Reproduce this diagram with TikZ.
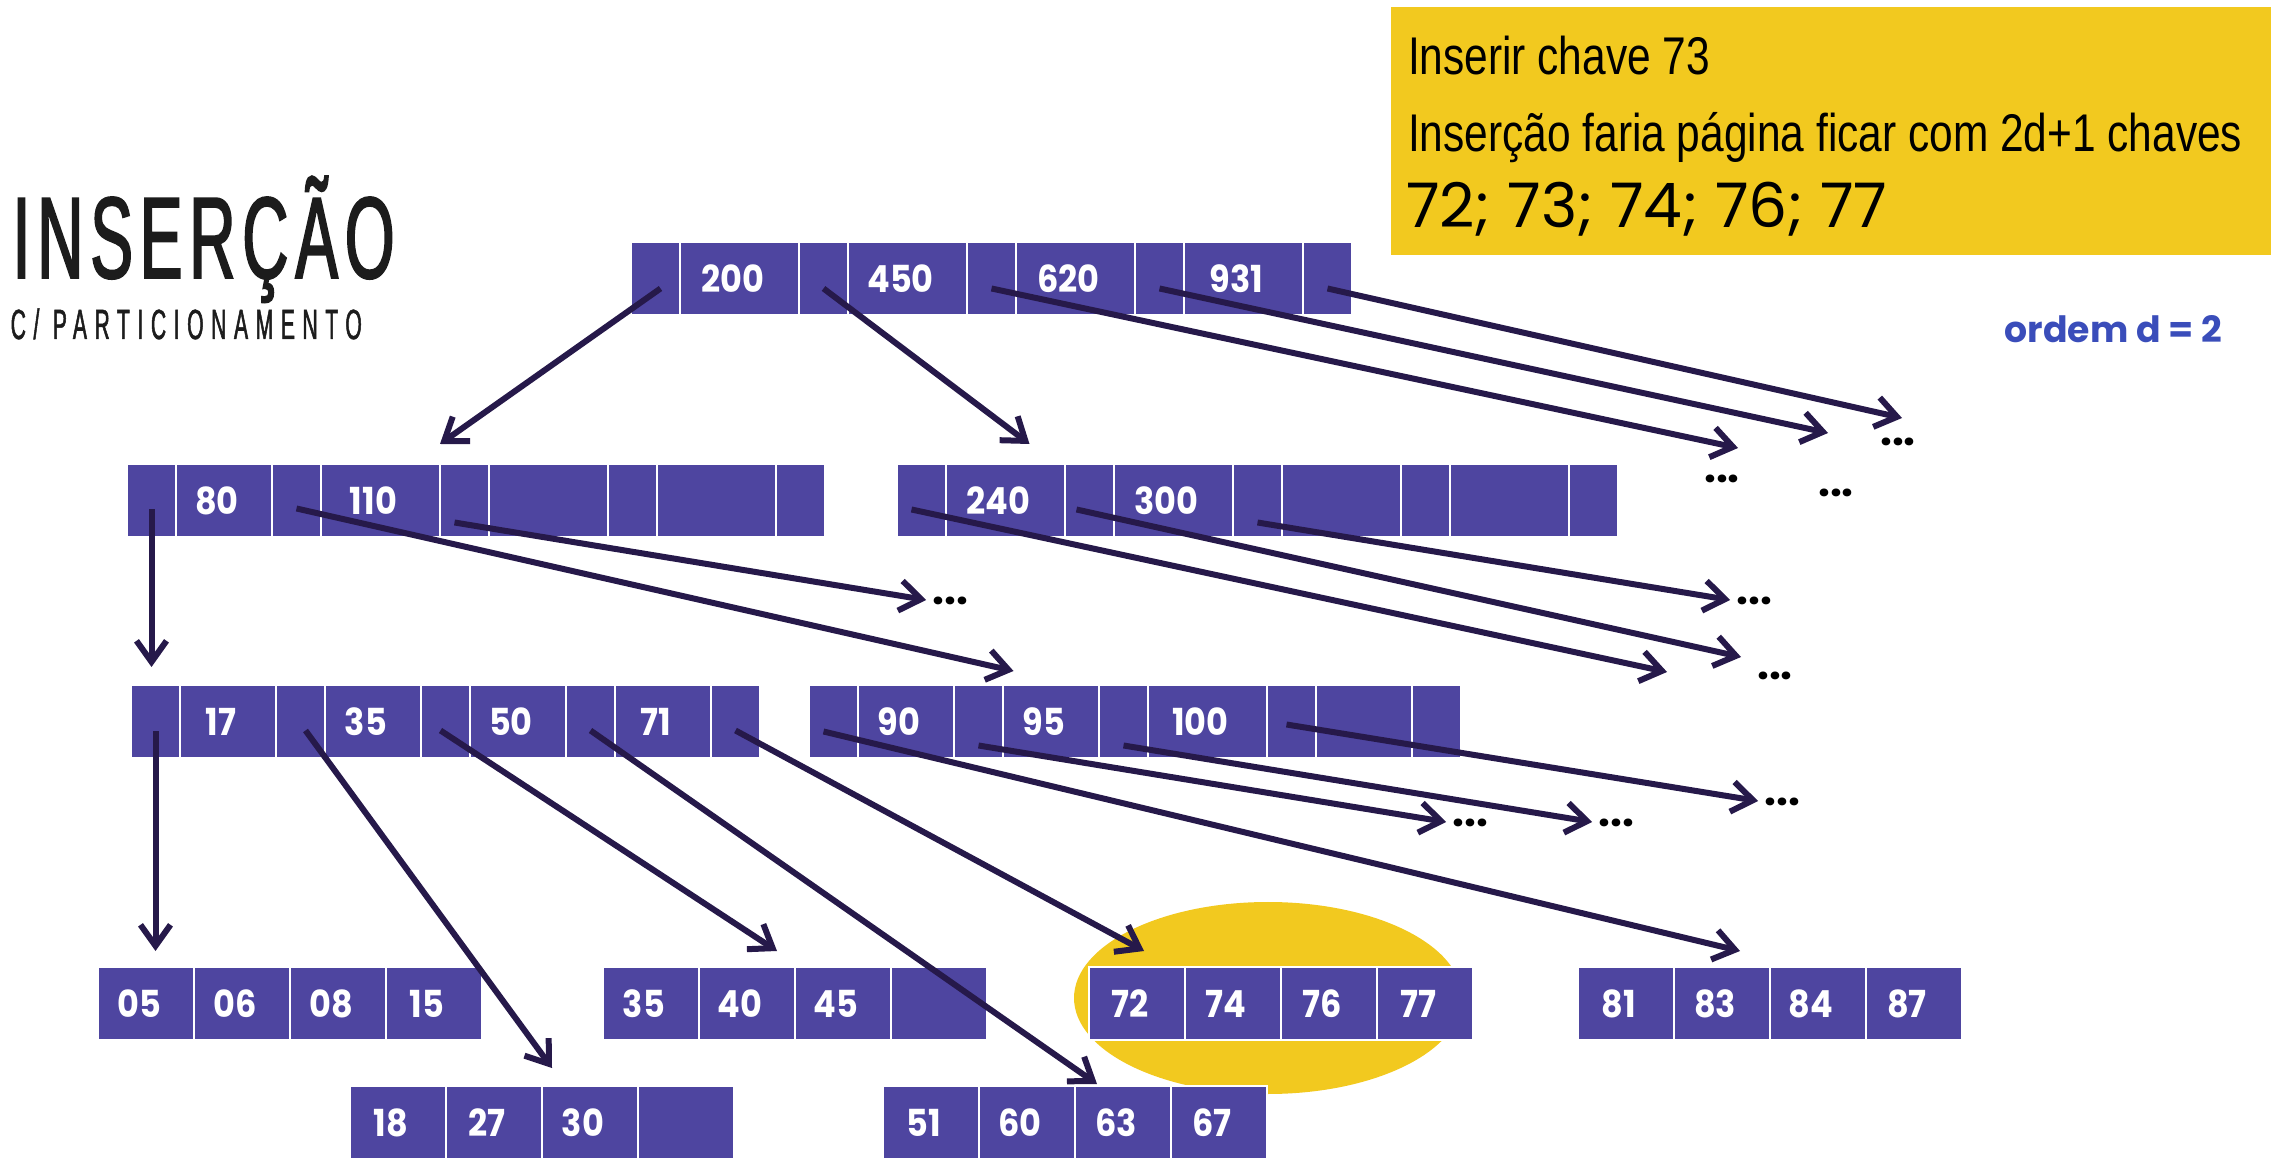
\documentclass[tikz,border=0pt]{standalone}
\usepackage{fontspec}
\setmainfont{Poppins}
\newfontfamily\titfont[FakeStretch=0.55,LetterSpace=6,FakeBold=1.6]{Liberation Sans}
\newfontfamily\subfont[FakeStretch=0.5,LetterSpace=18,FakeBold=1.2]{Liberation Sans}
\newfontfamily\boxfont[FakeStretch=0.8]{Liberation Sans}
\newfontfamily\keyfont[FakeStretch=0.9]{Poppins}
\usepackage{tikz}
\usetikzlibrary{positioning,arrows.meta,calc}

\definecolor{boxc}{RGB}{78,69,160}
\definecolor{arrowc}{RGB}{38,25,74}
\definecolor{amarelo}{RGB}{242,201,31}
\definecolor{azul}{RGB}{58,77,186}
\definecolor{titc}{RGB}{28,28,28}

% uma pagina da arvore: nome, ponto a esquerda, lista largura/chave
\newcommand{\pagina}[3]{%
  \node[ancora] (#1-0) at (#2) {};
  \foreach \w/\t [count=\i, remember=\i as \j (initially 0)] in {#3}
    \node[cell, minimum width=\w mm, right=0pt of #1-\j] (#1-\i) {\hspace*{-1.4mm}\t};
}

\begin{document}
\begin{tikzpicture}[
  ancora/.style={inner sep=0pt, outer sep=0pt, minimum size=0pt},
  cell/.style={fill=boxc, draw=white, line width=0.25mm, minimum height=7.3mm,
               inner sep=0pt, outer sep=0pt, text=white,
               font=\keyfont\bfseries\fontsize{10.6}{12}\selectfont},
  arr/.style={draw=arrowc, line width=0.6mm, -{Straight Barb[length=2.1mm, width=3mm]}},
  arrd/.style={arr, shorten >=0.6mm},
  pts/.style={font=\bfseries\fontsize{12}{12}\selectfont, inner sep=0pt, text=black},
  caixa/.style={fill=amarelo, minimum width=8.8cm, minimum height=2.48cm, inner sep=0pt},
  linha/.style={anchor=base west, inner sep=0pt, font=\boxfont\fontsize{15.1}{18}\selectfont},
]
\useasboundingbox (0,0) rectangle (22.78,-11.76);

% titulo
\node[anchor=base west, inner sep=0pt, text=titc, font=\titfont\fontsize{33}{36}\selectfont] (titulo) at (0.12,-2.78) {INSERÇÃO};
\node[anchor=base west, inner sep=0pt, text=titc, font=\subfont\fontsize{12}{13}\selectfont] (subtitulo) at (0.1,-3.39) {C/ PARTICIONAMENTO};

% quadro amarelo
\node[caixa] (aviso) at (18.31,-1.31) {};
\node[linha] (l1) at ($(aviso.north west)+(1.7mm,-6.8mm)$) {Inserir chave 73};
\node[linha] (l2) at ($(aviso.north west)+(1.7mm,-14.5mm)$) {Inserção faria página ficar com 2d+1 chaves};
\node[linha, font=\fontsize{17.5}{18}\selectfont] (l3) at ($(aviso.north west)+(1.5mm,-22.1mm)$) {72; 73; 74; 76; 77};

\node[anchor=base west, inner sep=0pt, text=azul, font=\bfseries\fontsize{10.3}{12}\selectfont] (ordem) at (20.04,-3.43) {ordem d = 2};

% destaque da folha cheia
\fill[amarelo] (12.68,-9.98) ellipse [x radius=1.94, y radius=0.96];

% paginas
\pagina{r}{6.31,-2.785}{4.9/{},11.9/200,4.9/{},11.9/450,4.9/{},11.9/620,4.9/{},11.9/931,4.9/{}}
\pagina{n1}{1.27,-5.005}{4.9/{},9.6/80,4.9/{},11.9/110,4.9/{},11.9/{},4.9/{},11.9/{},4.9/{}}
\pagina{n2}{8.97,-5.005}{4.9/{},11.9/240,4.9/{},11.9/300,4.9/{},11.9/{},4.9/{},11.9/{},4.9/{}}
\pagina{n3}{1.31,-7.215}{4.9/{},9.6/17,4.9/{},9.6/35,4.9/{},9.6/50,4.9/{},9.6/71,4.9/{}}
\pagina{n4}{8.09,-7.215}{4.9/{},9.6/90,4.9/{},9.6/95,4.9/{},11.9/100,4.9/{},9.6/{},4.9/{}}
\pagina{f1}{0.98,-10.035}{9.6/05,9.6/06,9.6/08,9.6/15}
\pagina{f2}{3.50,-11.225}{9.6/18,9.6/27,9.6/30,9.6/{}}
\pagina{f3}{6.03,-10.035}{9.6/35,9.6/40,9.6/45,9.6/{}}
\pagina{f4}{8.83,-11.225}{9.6/51,9.6/60,9.6/63,9.6/67}
\pagina{f5}{10.89,-10.035}{9.6/72,9.6/74,9.6/76,9.6/77}
\pagina{f6}{15.78,-10.035}{9.6/81,9.6/83,9.6/84,9.6/87}

% reticencias e pontas livres
\node[pts] (dA) at (17.22,-4.79) {...};
\node[pts] (dB) at (18.36,-4.93) {...};
\node[pts] (dC) at (18.98,-4.42) {...};
\node[pts] (d5) at (17.75,-6.76) {...};
\node[pts, anchor=west] (d1) at (9.32,-6.01) {...};
\node[pts, anchor=west] (d6) at (17.36,-6.01) {...};
\node[pts, anchor=west] (d7) at (14.52,-8.23) {...};
\node[pts, anchor=west] (d8) at (15.98,-8.23) {...};
\node[pts, anchor=west] (d9) at (17.64,-8.02) {...};
\coordinate (tA) at (17.38,-4.48);
\coordinate (tB) at (18.28,-4.33);
\coordinate (tC) at (19.02,-4.18);
\coordinate (t4) at (16.67,-6.72);
\coordinate (t5) at (17.41,-6.57);

% ponteiros da raiz
\draw[arr] ([shift={(0.5mm,-1mm)}]r-1.center) -- ([yshift=2mm]n1-4.north east);
\draw[arr] ([yshift=-1mm]r-3.center) -- ([shift={(2.4mm,2mm)}]n2-2.north);
\foreach \a/\b in {r-5/tA,r-7/tB,r-9/tC} \draw[arr] ([yshift=-1mm]\a.center) -- (\b);

% ponteiros do nivel 2
\draw[arr] ([yshift=-0.9mm]n1-1.center) -- ($(n1-1.center |- n3-1.north)+(0,1.8mm)$);
\draw[arr] ([yshift=-0.8mm]n1-3.center) -- ([shift={(3.5mm,1.4mm)}]n4-3.north);
\draw[arrd] ([shift={(-1mm,-2.2mm)}]n1-5.center) -- (d1.west);
\draw[arr] ([shift={(-1mm,-0.9mm)}]n2-1.center) -- (t4);
\draw[arr] ([shift={(-1.3mm,-0.9mm)}]n2-3.center) -- (t5);
\draw[arrd] ([yshift=-2.2mm]n2-5.center) -- (d6.west);

% ponteiros do nivel 3
\draw[arr] ([yshift=-1mm]n3-1.center) -- ($(n3-1.center |- f1-1.north)+(0,1.6mm)$);
\draw[arr] ([shift={(0.5mm,-0.9mm)}]n3-3.center) -- ([shift={(1mm,1.8mm)}]f2-3.north west);
\draw[arr] ([shift={(-0.5mm,-0.9mm)}]n3-5.center) -- ([shift={(3mm,1.6mm)}]f3-2.north);
\draw[arr] ([yshift=-0.9mm]n3-7.center) -- ([shift={(-2.6mm,0.2mm)}]f4-3.north);
\draw[arr] ([yshift=-0.9mm]n3-9.center) -- ([shift={(0.7mm,1.6mm)}]f5-1.north);
\draw[arr] ([shift={(-1mm,-1mm)}]n4-1.center) -- ([shift={(1.8mm,1.6mm)}]f6-2.north);
\draw[arrd] ([yshift=-2.4mm]n4-3.center) -- (d7.west);
\draw[arrd] ([yshift=-2.4mm]n4-5.center) -- (d8.west);
\draw[arrd] ([shift={(-0.5mm,-0.3mm)}]n4-7.center) -- (d9.west);
\end{tikzpicture}
\end{document}
